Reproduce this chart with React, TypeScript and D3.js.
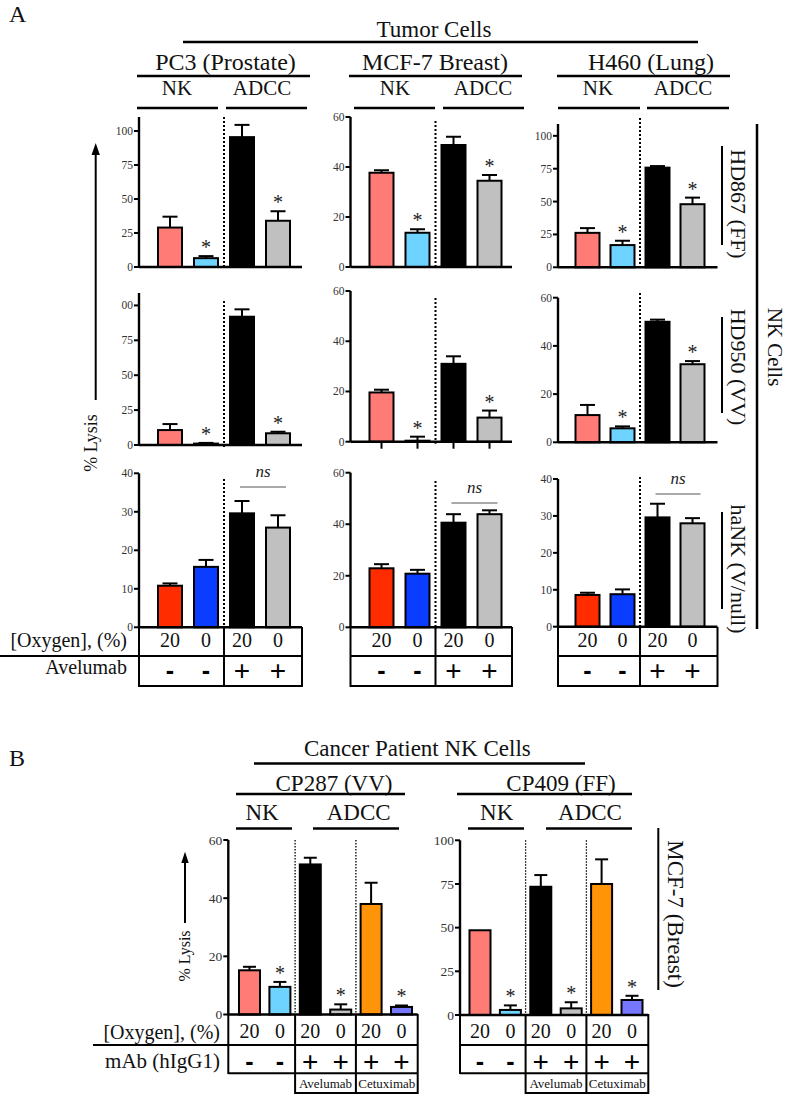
import React from "react";
import * as d3 from "d3";

// ---------------- DATA ----------------
const tumorCells = ["PC3 (Prostate)", "MCF-7 Breast)", "H460 (Lung)"];
const effectorsA = ["HD867 (FF)", "HD950 (VV)", "haNK (V/null)"];
const oxygenA = ["20", "0", "20", "0"];
const avelumabA = ["-", "-", "+", "+"];

// % lysis, columns = PC3, MCF-7, H460 ; bars = NK 20%, NK 0%, ADCC 20%, ADCC 0%
const hd867Lysis = [[29, 6.5, 95.5, 34], [37.7, 13.7, 48.8, 34.5], [26.2, 16.9, 75.8, 48]];
const hd867Err = [[8, 1.5, 9, 7], [1, 1.4, 3.3, 2.3], [3.6, 3.3, 1.2, 5]];
const hd950Lysis = [[10.7, 1, 91.9, 8.4], [19.6, 0.4, 31, 9.6], [11.3, 5.8, 50, 32.4]];
const hd950Err = [[4.3, 0.5, 5.3, 1.1], [1.1, 1.6, 3, 2.8], [4.2, 0.8, 0.9, 1.3]];
const haNKLysis = [[10.8, 15.7, 29.6, 25.9], [22.9, 20.8, 40.6, 43.9], [8.6, 8.8, 29.6, 28]];
const haNKErr = [[0.6, 1.8, 3.2, 3.2], [1.6, 1.5, 3.3, 1.5], [0.6, 1.3, 3.7, 1.4]];
const sigHD = [false, true, false, true];
const sigHaNK = [false, false, false, false];

const ticksHD867 = [[0, 25, 50, 75, 100], [0, 20, 40, 60], [0, 25, 50, 75, 100]];
const ticksHD950 = [[0, 25, 50, 75, 100], [0, 20, 40, 60], [0, 20, 40, 60]];
const ticksHaNK = [[0, 10, 20, 30, 40], [0, 20, 40, 60], [0, 10, 20, 30, 40]];
const labelsHD950PC3 = ["0", "25", "50", "75", "00"];

const patients = ["CP287 (VV)", "CP409 (FF)"];
const oxygenB = ["20", "0", "20", "0", "20", "0"];
const mAbB = ["-", "-", "+", "+", "+", "+"];
const antibodiesB = ["Avelumab", "Cetuximab"];
const cp287Lysis = [15.2, 9.5, 51.6, 1.7, 38, 2.6];
const cp287Err = [1.2, 1.7, 2.3, 1.8, 7.3, 0.5];
const cp409Lysis = [48.5, 2.9, 73.4, 3.8, 75, 8.6];
const cp409Err = [0, 2.6, 6.7, 3.5, 14.1, 2.4];
const sigB = [false, true, false, true, false, true];
const ticksCP287 = [0, 20, 40, 60];
const ticksCP409 = [0, 25, 50, 75, 100];

// ---------------- STYLE / LAYOUT ----------------
const colorsHD = ["#ff7b76", "#6fd3ff", "#000000", "#c0c0c0"];
const colorsHaNK = ["#ff2c00", "#0a3dff", "#000000", "#c0c0c0"];
const colorsB = ["#ff7b76", "#6fd3ff", "#000000", "#c0c0c0", "#ff9409", "#7676ff"];
const SERIF = "'Liberation Serif', 'Times New Roman', serif";
const SANS = "'Liberation Sans', Arial, sans-serif";

const colsA = [
  { x0: 139, xEnd: 302, c0: 170, step: 36 },
  { x0: 350.5, xEnd: 512, c0: 381.5, step: 36 },
  { x0: 558, xEnd: 717.5, c0: 587.5, step: 35 },
];
const rowsA = [
  [
    { yTop: 117, y0: 267, max: 110.3, dotTop: 117 },
    { yTop: 117, y0: 267, max: 60, dotTop: 121 },
    { yTop: 124, y0: 267.3, max: 109, dotTop: 118 },
  ],
  [
    { yTop: 293, y0: 445, max: 108.9, dotTop: 301 },
    { yTop: 291, y0: 441.7, max: 60, dotTop: 298 },
    { yTop: 297.7, y0: 442.3, max: 60, dotTop: 293 },
  ],
  [
    { yTop: 473.3, y0: 627.3, max: 40, dotTop: 479 },
    { yTop: 472.7, y0: 627.3, max: 60, dotTop: 481 },
    { yTop: 479, y0: 626.7, max: 40, dotTop: 477 },
  ],
];
const nsLineY = [487, 503, 494];

type PanelProps = {
  x0: number; xEnd: number; c0: number; step: number;
  y0: number; yTop: number; max: number; dotTop: number;
  values: number[]; errs: number[]; colors: string[]; stars: boolean[];
  ticks: number[]; tickLabels?: string[]; barW: number; capW: number;
  dividers: number[]; thinDots?: boolean; xTicks?: boolean; tickFont: number;
  ns?: number;
};

function BarPanel(p: PanelProps) {
  const idx = p.values.map((_, i) => i);
  const x = d3.scalePoint<number>().domain(idx).range([p.c0, p.c0 + p.step * (idx.length - 1)]);
  const y = d3.scaleLinear().domain([0, p.max]).range([p.y0, p.yTop]);
  return (
    <g>
      {p.dividers.map((d) => {
        const dx = ((x(d) as number) + (x(d + 1) as number)) / 2;
        return (
          <line key={"dv" + d} x1={dx} x2={dx} y1={p.dotTop} y2={p.y0 + 2}
            stroke="#000" strokeWidth={p.thinDots ? 1.3 : 2}
            strokeDasharray={p.thinDots ? "1.5,1.5" : "2,2"} />
        );
      })}
      {p.values.map((v, i) => {
        const cx = x(i) as number;
        const top = y(v);
        const et = y(v + p.errs[i]);
        return (
          <g key={"b" + i}>
            {p.errs[i] > 0 && (
              <g stroke="#000" strokeWidth={2}>
                <line x1={cx} x2={cx} y1={top} y2={et} />
                <line x1={cx - p.capW / 2} x2={cx + p.capW / 2} y1={et} y2={et} />
              </g>
            )}
            <rect x={cx - p.barW / 2} y={top} width={p.barW} height={Math.max(0, p.y0 - top)}
              fill={p.colors[i]} stroke="#000" strokeWidth={2} />
            {p.stars[i] && (
              <text x={cx} y={et - 2} textAnchor="middle" fontFamily={SERIF} fontSize={20} fill="#222">*</text>
            )}
            {p.xTicks && <line x1={cx} x2={cx} y1={p.y0} y2={p.y0 + 7} stroke="#000" strokeWidth={2} />}
          </g>
        );
      })}
      <line x1={p.x0} x2={p.x0} y1={p.yTop} y2={p.y0} stroke="#000" strokeWidth={2.4} />
      <line x1={p.x0} x2={p.xEnd} y1={p.y0} y2={p.y0} stroke="#000" strokeWidth={2.4} />
      {p.ticks.map((t, k) => (
        <g key={"t" + t}>
          <line x1={p.x0 - 5} x2={p.x0} y1={y(t)} y2={y(t)} stroke="#000" strokeWidth={2} />
          <text x={p.x0 - 6} y={y(t)} dy="0.35em" textAnchor="end" fontFamily={SERIF}
            fontSize={p.tickFont} fill="#333">{p.tickLabels ? p.tickLabels[k] : String(t)}</text>
        </g>
      ))}
      {p.ns !== undefined && (
        <g>
          <line x1={(x(2) as number) - 2} x2={(x(3) as number) + 8} y1={p.ns} y2={p.ns} stroke="#555" strokeWidth={1.2} />
          <text x={((x(2) as number) + (x(3) as number)) / 2 + 3} y={p.ns - 10} textAnchor="middle"
            fontFamily={SERIF} fontStyle="italic" fontSize={17} fill="#222">ns</text>
        </g>
      )}
    </g>
  );
}

function HLine({ x1, x2, y, w = 2.5 }: { x1: number; x2: number; y: number; w?: number }) {
  return <line x1={x1} x2={x2} y1={y} y2={y} stroke="#000" strokeWidth={w} />;
}
function VLine({ x, y1, y2, w = 2 }: { x: number; y1: number; y2: number; w?: number }) {
  return <line x1={x} x2={x} y1={y1} y2={y2} stroke="#000" strokeWidth={w} />;
}
function Txt(props: any) {
  const { children, size, anchor = "middle", family = SERIF, ...rest } = props;
  return (
    <text fontFamily={family} fontSize={size} textAnchor={anchor} fill="#111" {...rest}>{children}</text>
  );
}
function PlusMinus({ x, y, s }: { x: number; y: number; s: string }) {
  return s === "+" ? (
    <text x={x} y={y} dy="0.36em" textAnchor="middle" fontFamily={SANS} fontSize={28} fill="#000">+</text>
  ) : (
    <text x={x} y={y} dy="0.36em" textAnchor="middle" fontFamily={SANS} fontWeight="bold" fontSize={25} fill="#000">-</text>
  );
}

export default function App() {
  const dataRows = [
    { vals: hd867Lysis, errs: hd867Err, ticks: ticksHD867, colors: colorsHD, stars: sigHD },
    { vals: hd950Lysis, errs: hd950Err, ticks: ticksHD950, colors: colorsHD, stars: sigHD },
    { vals: haNKLysis, errs: haNKErr, ticks: ticksHaNK, colors: colorsHaNK, stars: sigHaNK },
  ];
  const colHeaders = [
    { tx: 225.5, line: [137, 310], nk: 177, nkL: [137, 218], adcc: 262, adccL: [226, 307] },
    { tx: 435, line: [349, 522], nk: 395, nkL: [354, 435], adcc: 483, adccL: [443, 524] },
    { tx: 651, line: [557, 730], nk: 598, nkL: [558, 640], adcc: 683, adccL: [647, 729] },
  ];
  const effLabelY = [204, 367, 569];
  const effLine = [[146, 245], [317, 413], [512, 609]];

  const panelsB = [
    { x0: 228.3, xEnd: 417.7, c0: 249.5, step: 30.4, y0: 1014.5, yTop: 840, max: 60, vals: cp287Lysis, errs: cp287Err, ticks: ticksCP287 },
    { x0: 460, xEnd: 648.3, c0: 480, step: 30.4, y0: 1015, yTop: 840.3, max: 100, vals: cp409Lysis, errs: cp409Err, ticks: ticksCP409 },
  ];
  const headB = [
    { tx: 334, line: [236, 405], nk: 262, nkL: [236, 292], adcc: 358.7, adccL: [313, 399] },
    { tx: 561, line: [457, 632], nk: 496.7, nkL: [468, 524], adcc: 590, adccL: [546, 632] },
  ];

  return (
    <>
      <style>{"body{margin:0;background:#fff}"}</style>
      <svg width={787} height={1094} viewBox="0 0 787 1094" style={{ display: "block" }}>
        <rect width={787} height={1094} fill="#fff" />
        {/* ---------- Panel A ---------- */}
        <Txt x={9} y={22} size={24} anchor="start">A</Txt>
        <Txt x={434} y={37} size={23}>Tumor Cells</Txt>
        <HLine x1={183} x2={698} y={42} />
        {colHeaders.map((h, c) => (
          <g key={"ch" + c}>
            <Txt x={h.tx} y={70} size={24}>{tumorCells[c]}</Txt>
            <HLine x1={h.line[0]} x2={h.line[1]} y={76} />
            <Txt x={h.nk} y={95} size={21}>NK</Txt>
            <HLine x1={h.nkL[0]} x2={h.nkL[1]} y={108} />
            <Txt x={h.adcc} y={95} size={21}>ADCC</Txt>
            <HLine x1={h.adccL[0]} x2={h.adccL[1]} y={108} />
          </g>
        ))}
        {dataRows.map((r, ri) =>
          colsA.map((c, ci) => {
            const ly = rowsA[ri][ci];
            return (
              <BarPanel key={`p${ri}${ci}`} {...c} {...ly}
                values={r.vals[ci]} errs={r.errs[ci]} colors={r.colors} stars={r.stars}
                ticks={r.ticks[ci]} tickLabels={ri === 1 && ci === 0 ? labelsHD950PC3 : undefined}
                barW={24} capW={15} dividers={[1]} tickFont={11.5}
                xTicks={ri === 1 && ci === 1} ns={ri === 2 ? nsLineY[ci] : undefined} />
            );
          })
        )}
        {/* tables A */}
        {colsA.map((c, ci) => {
          const x = d3.scalePoint<number>().domain([0, 1, 2, 3]).range([c.c0, c.c0 + c.step * 3]);
          const mid = ((x(1) as number) + (x(2) as number)) / 2;
          return (
            <g key={"ta" + ci}>
              <HLine x1={c.x0} x2={c.xEnd} y={656} w={2} />
              <HLine x1={c.x0} x2={c.xEnd} y={686} w={2} />
              <VLine x={c.x0} y1={627} y2={687} />
              <VLine x={mid} y1={627} y2={687} />
              <VLine x={c.xEnd} y1={627} y2={687} />
              {oxygenA.map((o, i) => (
                <Txt key={"o" + i} x={x(i)} y={647} size={20}>{o}</Txt>
              ))}
              {avelumabA.map((s, i) => (
                <PlusMinus key={"s" + i} x={x(i) as number} y={670} s={s} />
              ))}
            </g>
          );
        })}
        <HLine x1={0} x2={139} y={656} w={2} />
        <Txt x={127} y={647} size={20} anchor="end">[Oxygen], (%)</Txt>
        <Txt x={127} y={674} size={20} anchor="end">Avelumab</Txt>
        {/* right side labels */}
        {effectorsA.map((e, i) => (
          <g key={"ef" + i}>
            <VLine x={722} y1={effLine[i][0]} y2={effLine[i][1]} />
            <Txt size={22} transform={`translate(731,${effLabelY[i]}) rotate(90)`}>{e}</Txt>
          </g>
        ))}
        <VLine x={757} y1={124} y2={629} w={2.5} />
        <Txt size={21} transform="translate(768,347) rotate(90)">NK Cells</Txt>
        {/* % Lysis A */}
        <line x1={95.7} x2={95.7} y1={152} y2={400} stroke="#000" strokeWidth={2} />
        <polygon points="95.7,143 91.5,155 99.9,155" fill="#000" />
        <Txt size={18} transform="translate(97,443) rotate(-90)">% Lysis</Txt>

        {/* ---------- Panel B ---------- */}
        <Txt x={9} y={766} size={24} anchor="start">B</Txt>
        <Txt x={304} y={756} size={23} anchor="start">Cancer Patient NK Cells</Txt>
        <HLine x1={254} x2={585} y={763.5} />
        {headB.map((h, c) => (
          <g key={"hb" + c}>
            <Txt x={h.tx} y={790.5} size={23}>{patients[c]}</Txt>
            <HLine x1={h.line[0]} x2={h.line[1]} y={794} />
            <Txt x={h.nk} y={820} size={23}>NK</Txt>
            <HLine x1={h.nkL[0]} x2={h.nkL[1]} y={828.5} />
            <Txt x={h.adcc} y={820} size={23}>ADCC</Txt>
            <HLine x1={h.adccL[0]} x2={h.adccL[1]} y={828.5} />
          </g>
        ))}
        {panelsB.map((p, pi) => {
          const x = d3.scalePoint<number>().domain(d3.range(6)).range([p.c0, p.c0 + p.step * 5]);
          const m1 = ((x(1) as number) + (x(2) as number)) / 2;
          const m2 = ((x(3) as number) + (x(4) as number)) / 2;
          return (
            <g key={"pb" + pi}>
              <BarPanel x0={p.x0} xEnd={p.xEnd} c0={p.c0} step={p.step} y0={p.y0} yTop={p.yTop}
                max={p.max} dotTop={p.yTop} values={p.vals} errs={p.errs} colors={colorsB}
                stars={sigB} ticks={p.ticks} barW={21} capW={13} dividers={[1, 3]} thinDots
                tickFont={13.5} />
              <HLine x1={p.x0} x2={p.xEnd} y={1045} w={2} />
              <HLine x1={p.x0} x2={p.xEnd} y={1073.3} w={2} />
              <HLine x1={m1} x2={p.xEnd} y={1093} w={2} />
              <VLine x={p.x0} y1={1014} y2={1074} />
              <VLine x={m1} y1={1014} y2={1094} />
              <VLine x={m2} y1={1014} y2={1094} />
              <VLine x={p.xEnd} y1={1014} y2={1094} />
              {oxygenB.map((o, i) => (
                <Txt key={"o" + i} x={x(i)} y={1037.5} size={20}>{o}</Txt>
              ))}
              {mAbB.map((s, i) => (
                <PlusMinus key={"s" + i} x={x(i) as number} y={1061} s={s} />
              ))}
              <Txt x={(m1 + m2) / 2} y={1088} size={13}>{antibodiesB[0]}</Txt>
              <Txt x={(m2 + p.xEnd) / 2} y={1088} size={13}>{antibodiesB[1]}</Txt>
            </g>
          );
        })}
        <HLine x1={93} x2={228.3} y={1045} w={2} />
        <Txt x={220} y={1039} size={20} anchor="end">[Oxygen], (%)</Txt>
        <Txt x={220} y={1068} size={21} anchor="end">mAb (hIgG1)</Txt>
        <VLine x={658.3} y1={828} y2={990} />
        <Txt size={23} transform="translate(668,914) rotate(90)">MCF-7 (Breast)</Txt>
        <line x1={185} x2={185} y1={860} y2={923} stroke="#000" strokeWidth={2} />
        <polygon points="185,851.7 181.3,863 188.7,863" fill="#000" />
        <Txt size={16} transform="translate(190,956) rotate(-90)">% Lysis</Txt>
      </svg>
    </>
  );
}
